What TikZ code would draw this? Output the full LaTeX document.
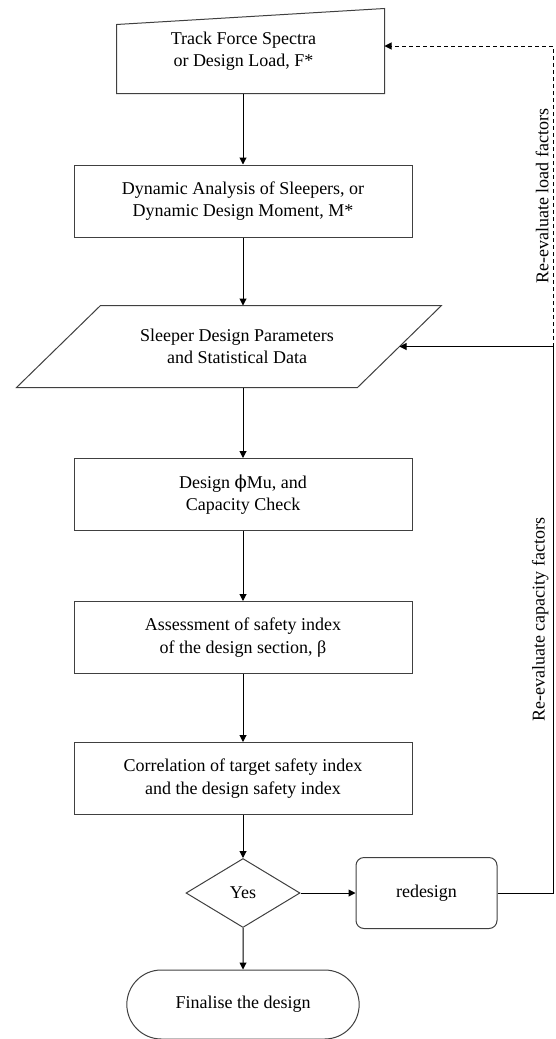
\documentclass[tikz,border=0pt]{standalone}
\usepackage{fontspec}
\setmainfont{Liberation Serif}
\newfontfamily\greekfont{DejaVu Serif}
\usetikzlibrary{positioning, arrows.meta, shapes}

\begin{document}
\begin{tikzpicture}[
    % GLOBAL CFG
    x=1pt, y=-1pt,
    font=\fontsize{18}{22.5}\selectfont,
    >={Triangle[length=7pt, width=7pt]},
    line width=1pt,
    % Styles
    process/.style={% For the plain boxes
        rectangle,
        draw=black!75,
        minimum width=338pt,
        minimum height=72pt,
        align=center,
        },
    outline/.style={% For boxes whose border is drawn by hand
        rectangle,
        inner sep=0pt,
        },
    decision/.style={% For the test
        diamond,
        draw=black!75,
        minimum width=114pt,
        minimum height=69pt,
        inner sep=0pt,
        },
    rework/.style={% For the redesign step
        rectangle,
        rounded corners=8pt,
        draw=black!75,
        minimum width=141pt,
        minimum height=71pt,
        },
    terminal/.style={% For the end
        rounded rectangle,
        draw=black!75,
        minimum width=239pt,
        minimum height=69pt,
        },
    mylabel/.style={% text of the hand drawn boxes
        align=center,
        },
    sidelabel/.style={% text along the return lines
        sloped,
        above,
        inner sep=4pt,
        },
    ]

    \useasboundingbox (0,0) rectangle (555,1039);

    % Draw the boxes
    \node[outline, minimum width=267pt, minimum height=84pt,
        label={[mylabel, xshift=-7pt]center:{Track Force Spectra\\or Design Load, F*}}] (load) at (250.5,51) {};
    \node[process] (dyn) at (243,201) {Dynamic Analysis of Sleepers, or\\Dynamic Design Moment, M*};
    \node[outline, minimum width=340pt, minimum height=81pt,
        label={[mylabel, xshift=8pt]center:{Sleeper Design Parameters\\and Statistical Data}}] (params) at (229,346.5) {};
    \node[process] (design) at (243,494.5) {Design {\greekfont ϕ}Mu, and\\Capacity Check};
    \node[process] (safety) at (243,637.5) {Assessment of safety index\\of the design section, β};
    \node[process] (corr) at (243,778.5) {Correlation of target safety index\\and the design safety index};
    \node[decision] (check) at (243,893) {Yes};
    \node[rework] (redesign) at (426.5,893) {redesign};
    \node[terminal] (final) at (243,1004.5) {Finalise the design};

    % Hand drawn borders
    \draw[black!75] (load.south west) -- (load.south east) -- (load.north east)
        -- ([yshift=-16pt]load.north west) -- cycle;
    \draw[black!75] ([xshift=42pt]params.north west) -- ([xshift=42pt]params.north east)
        -- ([xshift=-42pt]params.south east) -- ([xshift=-42pt]params.south west) -- cycle;

    % Return line corner
    \coordinate (loopx) at (553,46);

    % Main flow
    \draw[->] (load.south -| dyn.north) -- (dyn.north);
    \draw[->] (dyn) -- (dyn |- params.north);
    \draw[->] (params.south -| design.north) -- (design);
    \draw[->] (design) -- (safety);
    \draw[->] (safety) -- (corr);
    \draw[->] (corr) -- (check);
    \draw[->] (check) -- (final);
    \draw[->] (check) -- (redesign);

    % Return lines
    \draw[->] (redesign.east) -- (redesign.east -| loopx)
        -- node[sidelabel] (capnote) {Re-evaluate capacity factors} (params.east -| loopx)
        -- (params.east);
    \draw[->, dashed, dash pattern=on 4pt off 3pt] (params.east -| loopx)
        -- node[sidelabel] (loadnote) {Re-evaluate load factors} (loopx)
        -- ([yshift=5pt]load.east);

\end{tikzpicture}
\end{document}
